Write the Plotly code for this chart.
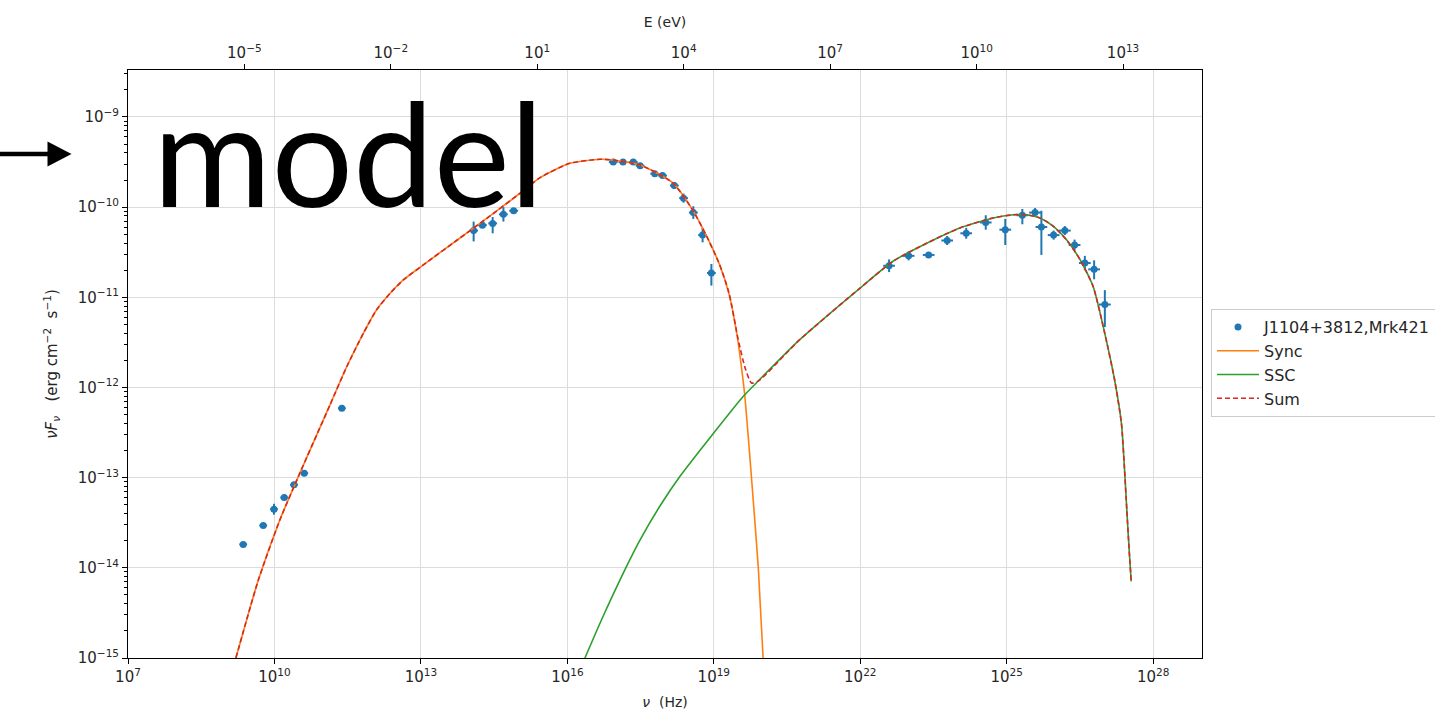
import numpy as np
import plotly.graph_objects as go

obs_log_nu = [9.36, 9.77, 9.99, 10.20, 10.40, 10.61, 11.38,
              14.08, 14.26, 14.47, 14.69, 14.90,
              16.94, 17.14, 17.35, 17.49, 17.79, 17.95, 18.19, 18.38, 18.58, 18.77, 18.95,
              22.59, 22.99, 23.40, 23.78, 24.17, 24.57, 24.97, 25.32, 25.58, 25.71,
              25.96, 26.19, 26.39, 26.60, 26.79, 27.01]
obs_log_nufnu = [-13.74, -13.53, -13.35, -13.22, -13.08, -12.95, -12.23,
                 -10.26, -10.20, -10.18, -10.08, -10.04,
                 -9.50, -9.50, -9.50, -9.54, -9.63, -9.65, -9.76, -9.90, -10.06, -10.31, -10.73,
                 -10.65, -10.54, -10.53, -10.37, -10.29, -10.17, -10.25, -10.09, -10.06, -10.22,
                 -10.31, -10.26, -10.42, -10.62, -10.69, -11.08]
# y error (dex) upper / lower
obs_err_up = [0.02, 0.02, 0.06, 0.02, 0.02, 0.02, 0.02,
              0.10, 0.03, 0.07, 0.08, 0.02,
              0.02, 0.02, 0.02, 0.02, 0.03, 0.03, 0.04, 0.05, 0.07, 0.08, 0.10,
              0.07, 0.05, 0.03, 0.05, 0.06, 0.08, 0.12, 0.07, 0.05, 0.18,
              0.05, 0.05, 0.06, 0.08, 0.10, 0.16]
obs_err_lo = [0.02, 0.02, 0.06, 0.02, 0.02, 0.02, 0.02,
              0.12, 0.03, 0.11, 0.08, 0.02,
              0.02, 0.02, 0.02, 0.02, 0.03, 0.03, 0.04, 0.05, 0.07, 0.08, 0.14,
              0.07, 0.05, 0.03, 0.05, 0.06, 0.08, 0.17, 0.10, 0.05, 0.31,
              0.05, 0.05, 0.06, 0.08, 0.11, 0.25]
# x error (dex), half-width of frequency bins
obs_xerr = [0.08, 0.08, 0.08, 0.08, 0.08, 0.08, 0.08,
            0.09, 0.09, 0.09, 0.09, 0.09,
            0.09, 0.09, 0.09, 0.09, 0.09, 0.09, 0.09, 0.09, 0.09, 0.09, 0.09,
            0.12, 0.12, 0.12, 0.12, 0.12, 0.12, 0.12, 0.12, 0.12, 0.12,
            0.12, 0.12, 0.12, 0.12, 0.12, 0.12]

# ---------------- model curves (log10 values) ----------------
sync_log_nu = [9.21, 9.46, 9.67, 10.11, 10.52, 11.14, 11.48, 11.82, 12.09, 12.37, 12.64,
               13.05, 13.73, 14.41, 15.03, 15.44, 16.05, 16.67, 16.93, 17.49,
               18.16, 18.57, 18.86, 19.12, 19.31, 19.47, 19.57, 19.64, 19.77, 19.91, 20.01]
sync_log_nufnu = [-15.0, -14.52, -14.135, -13.47, -12.95, -12.19, -11.77, -11.40, -11.14, -10.955, -10.807,
                  -10.64, -10.37, -10.10, -9.846, -9.672, -9.514, -9.469, -9.477, -9.532,
                  -9.731, -10.035, -10.33, -10.64, -10.96, -11.40, -11.79, -12.12, -12.99, -13.99, -15.0]

ssc_log_nu = [16.36, 16.73, 17.18, 17.49, 17.89, 18.30, 18.99, 19.60, 19.87, 20.76, 21.99,
              22.67, 23.36, 24.04, 24.72, 25.13, 25.40, 25.68, 25.95, 26.22, 26.50, 26.77,
              27.00, 27.21, 27.35, 27.41, 27.46, 27.51, 27.55]
ssc_log_nufnu = [-15.0, -14.54, -14.02, -13.69, -13.32, -12.99, -12.51, -12.10, -11.95, -11.47, -10.90,
                 -10.60, -10.40, -10.23, -10.12, -10.085, -10.085, -10.12, -10.21, -10.36, -10.58, -10.88,
                 -11.38, -11.917, -12.40, -12.88, -13.36, -13.82, -14.15]

sum_log_nu = [9.21, 9.46, 9.67, 10.11, 10.52, 11.14, 11.48, 11.82, 12.09, 12.37, 12.64,
              13.05, 13.73, 14.41, 15.03, 15.44, 16.05, 16.67, 16.93, 17.49,
              18.16, 18.57, 18.86, 19.12, 19.31, 19.50, 19.64, 19.77, 19.91, 20.76, 21.99,
              22.67, 23.36, 24.04, 24.72, 25.13, 25.40, 25.68, 25.95, 26.22, 26.50, 26.77,
              27.00, 27.21, 27.35, 27.41, 27.46, 27.51, 27.55]
sum_log_nufnu = [-15.0, -14.52, -14.135, -13.47, -12.95, -12.19, -11.77, -11.40, -11.14, -10.955, -10.807,
                 -10.64, -10.37, -10.10, -9.846, -9.672, -9.514, -9.469, -9.477, -9.532,
                 -9.731, -10.035, -10.33, -10.64, -10.95, -11.47, -11.78, -11.95, -11.93, -11.47, -10.90,
                 -10.60, -10.40, -10.23, -10.12, -10.085, -10.085, -10.12, -10.21, -10.36, -10.58, -10.88,
                 -11.38, -11.917, -12.40, -12.88, -13.36, -13.82, -14.15]

# ---------------- ticks ----------------
nu_tick_exp = [7, 10, 13, 16, 19, 22, 25, 28]
e_tick_exp = [-5, -2, 1, 4, 7, 10, 13]
y_tick_exp = [-15, -14, -13, -12, -11, -10, -9]
H_EV_S = 4.135667696e-15  # Planck constant, eV s

BLUE = "#1f77b4"
ORANGE = "#ff7f0e"
GREEN = "#2ca02c"
RED = "#d62728"
FONT = "DejaVu Sans"
TXT = "#262626"


def sup(e):
    return "10<sup>" + str(e).replace("-", "\u2212") + "</sup>"


nu = np.power(10.0, obs_log_nu)
fnu = np.power(10.0, obs_log_nufnu)
up = fnu * (np.power(10.0, obs_err_up) - 1)
lo = fnu * (1 - np.power(10.0, -np.array(obs_err_lo)))
xup = nu * (np.power(10.0, obs_xerr) - 1)
xlo = nu * (1 - np.power(10.0, -np.array(obs_xerr)))

SMOOTH = 0.6

fig = go.Figure()
fig.add_trace(go.Scatter(
    x=nu, y=fnu, mode="markers", name="J1104+3812,Mrk421",
    marker=dict(color=BLUE, size=7),
    error_y=dict(type="data", symmetric=False, array=up, arrayminus=lo,
                 color=BLUE, thickness=2, width=0),
    error_x=dict(type="data", symmetric=False, array=xup, arrayminus=xlo,
                 color=BLUE, thickness=2, width=0),
))
fig.add_trace(go.Scatter(x=np.power(10.0, sync_log_nu), y=np.power(10.0, sync_log_nufnu),
                         mode="lines", name="Sync",
                         line=dict(color=ORANGE, width=1.6, shape="spline", smoothing=SMOOTH)))
fig.add_trace(go.Scatter(x=np.power(10.0, ssc_log_nu), y=np.power(10.0, ssc_log_nufnu),
                         mode="lines", name="SSC",
                         line=dict(color=GREEN, width=1.6, shape="spline", smoothing=SMOOTH)))
fig.add_trace(go.Scatter(x=np.power(10.0, sum_log_nu), y=np.power(10.0, sum_log_nufnu),
                         mode="lines", name="Sum",
                         line=dict(color=RED, width=1.6, dash="5px,3px", shape="spline", smoothing=SMOOTH)))
# invisible helper so that the top energy axis is drawn
fig.add_trace(go.Scatter(x=[10.0 ** e for e in e_tick_exp], y=[1e-12] * len(e_tick_exp),
                         xaxis="x2", yaxis="y", mode="markers", marker=dict(opacity=0),
                         showlegend=False, hoverinfo="skip"))

# plot area in pixels
L, R, T, B = 128, 1202, 70, 658
W, H = 1435, 715


def px(xp):
    return (xp - L) / (R - L)


def py(yp):
    return (B - yp) / (B - T)


minor_vals = [m * 10.0 ** k for k in range(-15, -8) for m in range(2, 10)]

axis_common = dict(
    showline=True, linecolor="black", linewidth=1,
    ticks="outside", ticklen=5, tickwidth=1, tickcolor="black",
    tickfont=dict(family=FONT, size=15, color=TXT),
    zeroline=False,
)

fig.update_layout(
    width=W, height=H,
    paper_bgcolor="white", plot_bgcolor="white",
    margin=dict(l=L, r=W - R, t=T, b=H - B, autoexpand=False),
    font=dict(family=FONT, size=14, color=TXT),
    xaxis=dict(
        type="log", range=[7, 29],
        tickmode="array", tickvals=[10.0 ** e for e in nu_tick_exp], ticktext=[sup(e) for e in nu_tick_exp],
        showgrid=True, gridcolor="#dcdcdc", gridwidth=1, mirror=False,
        title=dict(text="<i>ν</i>  (Hz)", font=dict(family=FONT, size=14, color=TXT), standoff=12),
        **axis_common,
    ),
    xaxis2=dict(
        type="log", overlaying="x", side="top", anchor="y",
        range=[7 + np.log10(H_EV_S), 29 + np.log10(H_EV_S)],
        tickmode="array", tickvals=[10.0 ** e for e in e_tick_exp], ticktext=[sup(e) for e in e_tick_exp],
        showgrid=False,
        title=dict(text="E (eV)", font=dict(family=FONT, size=14, color=TXT), standoff=10),
        **axis_common,
    ),
    yaxis=dict(
        type="log", range=[-15, -8.479],
        tickmode="array", tickvals=[10.0 ** e for e in y_tick_exp], ticktext=[sup(e) for e in y_tick_exp],
        minor=dict(tickmode="array", tickvals=minor_vals, ticks="outside", ticklen=3,
                   tickcolor="black", tickwidth=1, showgrid=False),
        showgrid=True, gridcolor="#dcdcdc", gridwidth=1, mirror=True,
        title=dict(text="<i>ν</i><i>F</i><sub><i>ν</i></sub>   (erg cm<sup>\u22122</sup>  s<sup>\u22121</sup>)",
                   font=dict(family=FONT, size=15, color=TXT), standoff=16),
        **axis_common,
    ),
    legend=dict(
        x=px(1211), y=py(309), xanchor="left", yanchor="top",
        bgcolor="white", bordercolor="#cccccc", borderwidth=1,
        itemwidth=42, tracegroupgap=0,
        font=dict(family=FONT, size=16, color=TXT),
    ),
    showlegend=True,
)

# overlay: arrow and big "model" text
fig.add_shape(type="line", xref="paper", yref="paper",
              x0=px(0), x1=px(50), y0=py(154), y1=py(154),
              line=dict(color="black", width=4.5))
fig.add_shape(type="path", xref="paper", yref="paper",
              path=f"M {px(47.5)},{py(141.5)} L {px(71.5)},{py(154)} L {px(47.5)},{py(166.5)} Z",
              fillcolor="black", line=dict(color="black", width=0))
fig.add_annotation(text="model", xref="paper", yref="paper",
                   x=px(348), y=py(151), xanchor="center", yanchor="middle",
                   showarrow=False, font=dict(family="Lato", size=144, color="black"))

fig.write_html("out.html")
